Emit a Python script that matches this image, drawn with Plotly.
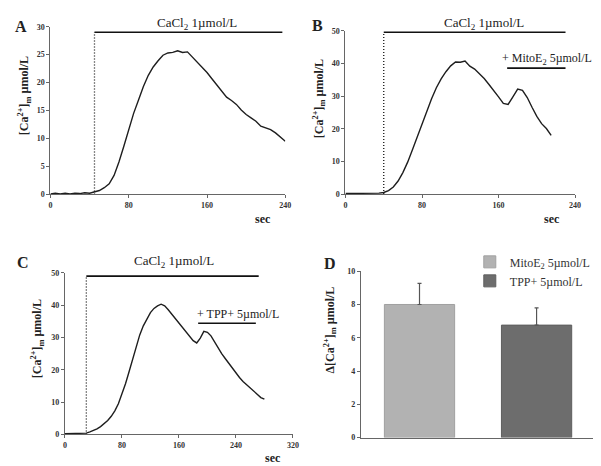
import plotly.graph_objects as go

W, H = 601, 466

# ---------------- data ----------------
sec_a = list(range(0, 245, 5))
ca_a = [0.1, 0.2, 0.1, 0.2, 0.1, 0.2, 0.15, 0.3, 0.2, 0.4, 0.7, 1.2, 1.9, 3.4, 5.8, 8.6,
        11.8, 14.5, 16.9, 19.3, 21.3, 22.8, 23.9, 24.9, 25.3, 25.4, 25.7, 25.4, 25.5, 24.6,
        23.7, 22.8, 21.8, 20.7, 19.6, 18.6, 17.4, 16.8, 16.1, 15.1, 14.3, 13.7, 13.1, 12.2,
        11.9, 11.6, 11.0, 10.3, 9.5]

sec_b = list(range(0, 220, 5))
ca_b = [0.2, 0.2, 0.1, 0.2, 0.2, 0.2, 0.3, 0.3, 0.5, 1.1, 2.2, 4.0, 6.6, 9.8, 13.6, 17.6,
        21.6, 25.6, 29.2, 32.6, 35.3, 37.5, 39.3, 40.5, 40.4, 40.8, 39.2, 38.3, 36.9, 35.4,
        33.6, 31.8, 29.8, 27.8, 27.5, 29.8, 32.2, 31.8, 29.6, 26.6, 23.8, 21.6, 20.1, 18.0]

sec_c = list(range(0, 285, 5))
ca_c = [0.2, 0.2, 0.2, 0.2, 0.2, 0.3, 0.4, 0.8, 1.2, 1.7, 2.4, 3.3, 4.3, 5.6, 7.3, 9.5,
        12.3, 15.7, 19.4, 23.5, 27.5, 30.8, 33.6, 35.9, 37.7, 39.0, 39.8, 40.3, 39.8, 38.6,
        37.2, 35.9, 34.6, 33.1, 31.6, 30.2, 29.0, 28.3, 29.8, 31.9, 31.6, 30.5, 28.6, 26.8,
        25.0, 23.5, 22.0, 20.4, 18.9, 17.6, 16.4, 15.4, 14.4, 13.2, 12.2, 11.4, 10.9]

# CaCl2 application bracket per panel A, B, C: start, end, level
cacl_start = [45, 40, 30]
cacl_end = [237, 230, 272]
cacl_level = [29.0, 49.6, 49.0]

# second treatment bars (B: MitoE2, C: TPP+)
drug_start = [169, 187]
drug_end = [230, 268]
drug_level = [38.6, 34.4]

# panel D
groups = ["MitoE<sub>2</sub> 5µmol/L", "TPP+ 5µmol/L"]
delta = [8.0, 6.76]
delta_err = [1.27, 1.04]
bar_colors = ["#b2b2b2", "#6d6d6d"]
bar_edges = ["#a0a0a0", "#5e5e5e"]

ticks_a_x = [0, 80, 160, 240]
ticks_a_y = [0, 5, 10, 15, 20, 25, 30]
ticks_b_x = [0, 80, 160, 240]
ticks_b_y = [0, 10, 20, 30, 40, 50]
ticks_c_x = [0, 80, 160, 240, 320]
ticks_c_y = [0, 10, 20, 30, 40, 50]
ticks_d_y = [0, 2, 4, 6, 8, 10]

# ---------------- figure ----------------
FONT = "Liberation Serif"
fig = go.Figure()

def px(x):
    return x / W

def py(y):
    return 1 - y / H

line_col = "#1e1e1e"

panels = [
    ("x", "y", sec_a, ca_a, 0),
    ("x2", "y2", sec_b, ca_b, 1),
    ("x3", "y3", sec_c, ca_c, 2),
]
for xa, ya, s, v, i in panels:
    fig.add_trace(go.Scatter(x=s, y=v, xaxis=xa, yaxis=ya, mode="lines",
                             line=dict(color=line_col, width=1.4), showlegend=False,
                             hoverinfo="skip"))
    fig.add_trace(go.Scatter(x=[cacl_start[i], cacl_start[i]], y=[0, cacl_level[i]],
                             xaxis=xa, yaxis=ya, mode="lines",
                             line=dict(color="#111", width=1.3, dash="1px,2px"),
                             showlegend=False, hoverinfo="skip"))
    fig.add_trace(go.Scatter(x=[cacl_start[i], cacl_end[i]], y=[cacl_level[i], cacl_level[i]],
                             xaxis=xa, yaxis=ya, mode="lines",
                             line=dict(color="#111", width=1.6),
                             showlegend=False, hoverinfo="skip"))

for j, (xa, ya) in enumerate([("x2", "y2"), ("x3", "y3")]):
    fig.add_trace(go.Scatter(x=[drug_start[j], drug_end[j]], y=[drug_level[j], drug_level[j]],
                             xaxis=xa, yaxis=ya, mode="lines",
                             line=dict(color="#111", width=1.6),
                             showlegend=False, hoverinfo="skip"))

for k in range(2):
    fig.add_trace(go.Bar(x=[k], y=[delta[k]], xaxis="x4", yaxis="y4", name=groups[k],
                         width=0.6,
                         marker=dict(color=bar_colors[k], line=dict(color=bar_edges[k], width=1)),
                         error_y=dict(type="data", array=[delta_err[k]], arrayminus=[0],
                                      symmetric=False, color="#555", thickness=1.2, width=2),
                         showlegend=True))

axis_common = dict(showline=True, linecolor="#666", linewidth=1, ticks="outside",
                   ticklen=3, tickcolor="#666", showgrid=False, zeroline=False,
                   tickfont=dict(family=FONT, size=8, color="#333", weight="bold"),
                   fixedrange=True)

fig.update_layout(
    width=W, height=H, margin=dict(l=0, r=0, t=0, b=0),
    paper_bgcolor="white", plot_bgcolor="white",
    barmode="overlay",
    xaxis=dict(domain=[px(41), px(279)], range=[0, 240], tickvals=ticks_a_x,
               anchor="y", **axis_common),
    yaxis=dict(domain=[py(186), py(15)], range=[0, 30], tickvals=ticks_a_y,
               anchor="x", **axis_common),
    xaxis2=dict(domain=[px(340), px(572.7)], range=[0, 240], tickvals=ticks_b_x,
                anchor="y2", **axis_common),
    yaxis2=dict(domain=[py(185.7), py(19.3)], range=[0, 50], tickvals=ticks_b_y,
                anchor="x2", **axis_common),
    xaxis3=dict(domain=[px(55.7), px(286.7)], range=[0, 320], tickvals=ticks_c_x,
                anchor="y3", **axis_common),
    yaxis3=dict(domain=[py(430.7), py(266)], range=[0, 50], tickvals=ticks_c_y,
                anchor="x3", **axis_common),
    xaxis4=dict(domain=[px(355.7), px(593)], range=[-0.5, 1.5], showticklabels=False,
                anchor="y4", showline=True, linecolor="#666", linewidth=1, ticks="",
                showgrid=False, zeroline=False, fixedrange=True),
    yaxis4=dict(domain=[py(434), py(264.3)], range=[0, 10], tickvals=ticks_d_y,
                anchor="x4", **axis_common),
    legend=dict(x=px(466), y=py(240), xanchor="left", yanchor="top",
                font=dict(family=FONT, size=12, color="#333"),
                bgcolor="rgba(0,0,0,0)", tracegroupgap=4, itemwidth=30),
)

ann = []
def txt(x, y, t, size=12, bold=False, angle=0, xanchor="center", color="#222"):
    ann.append(dict(x=px(x), y=py(y), xref="paper", yref="paper", text=t, showarrow=False,
                    xanchor=xanchor, yanchor="middle", textangle=angle,
                    font=dict(family=FONT, size=size, color=color,
                              weight="bold" if bold else "normal")))

# panel letters
txt(11, 15, "A", 16, True)
txt(312, 14, "B", 16, True)
txt(13, 255, "C", 16, True)
txt(324, 256, "D", 16, True)

# treatment labels
txt(190, 12, "CaCl<sub>2</sub> 1µmol/L", 13)
txt(480, 12, "CaCl<sub>2</sub> 1µmol/L", 13)
txt(166, 254, "CaCl<sub>2</sub> 1µmol/L", 13)
txt(544, 48, "+ MitoE<sub>2</sub> 5µmol/L", 12)
txt(231, 308, "+ TPP+ 5µmol/L", 12)

# axis titles
ylab = "[Ca<sup>2+</sup>]<sub>m</sub> µmol/L"
txt(15, 85, ylab, 12, True, -90)
txt(313, 88, ylab, 12, True, -90)
txt(28, 333, ylab, 12, True, -90)
txt(325, 324, "Δ[Ca<sup>2+</sup>]<sub>m</sub> µmol/L", 12, True, -90)
txt(256, 211, "sec", 12, True)
txt(549, 211, "sec", 12, True)
txt(267, 455, "sec", 12, True)

fig.update_layout(annotations=ann)
fig.write_html("out.html")
